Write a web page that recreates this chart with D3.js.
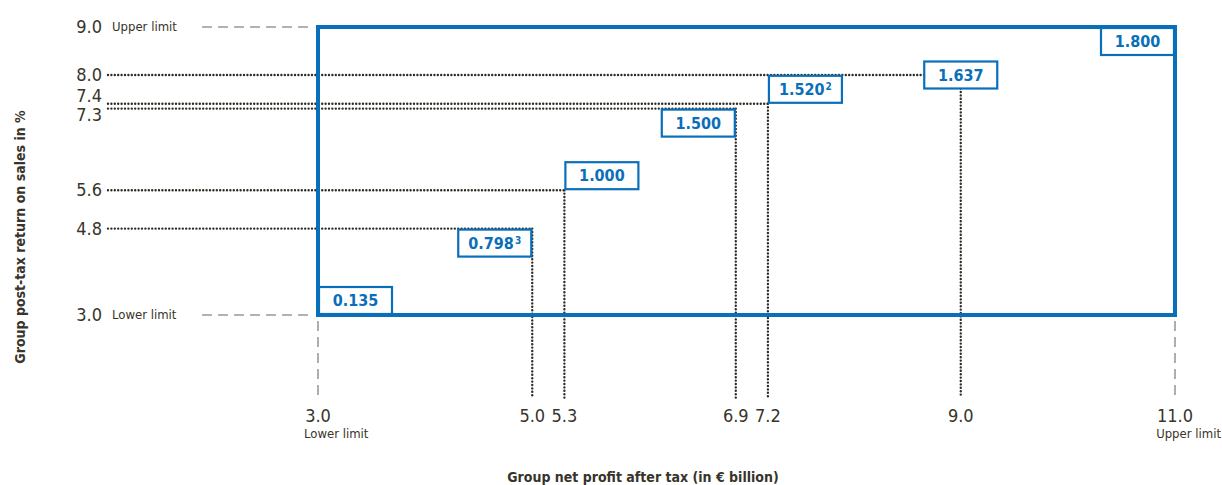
<!DOCTYPE html>
<html>
<head>
<meta charset="utf-8">
<script src="https://cdn.jsdelivr.net/npm/d3@7"></script>
<style>
  body { margin: 0; background: #fff; }
  text { font-family: "Liberation Sans Narrow", "DejaVu Sans Condensed", "Roboto", sans-serif; fill: #38342a; }
</style>
</head>
<body>
<div id="container"></div>
<script>
// datos del grafico
var profit = [3.0, 5.0, 5.3, 6.9, 7.2, 9.0, 11.0];
var returnOnSales = [3.0, 4.8, 5.6, 7.3, 7.4, 8.0, 9.0];
var boxLabels = ["0.135", "0.798", "1.000", "1.500", "1.520", "1.637", "1.800"];
var boxNotes = ["", "3", "", "", "2", "", ""];
var xTicks = ["3.0", "5.0", "5.3", "6.9", "7.2", "9.0", "11.0"];
var yTicks = ["3.0", "4.8", "5.6", "7.3", "7.4", "8.0", "9.0"];
var limits = { lowerX: 3.0, upperX: 11.0, lowerY: 3.0, upperY: 9.0 };

var W = 1222, H = 485;
var blue = "#0a6fba", ink = "#2f2b22", grey = "#9a9a9a";

var svg = d3.select("#container").append("svg")
    .attr("width", W).attr("height", H);

// escalas
var x = d3.scaleLinear().domain([limits.lowerX, limits.upperX]).range([318, 1175]);
var y = d3.scaleLinear().domain([limits.lowerY, limits.upperY]).range([315, 27]);

var axisBottomY = 398;
var boxW = 73, boxH = 27;

// lineas punteadas (solo para puntos interiores)
var idx = d3.range(profit.length).filter(function (i) { return i > 0 && i < profit.length - 1; });

svg.selectAll(".hdot").data(idx).enter().append("line")
    .attr("x1", 108).attr("x2", function (i) { return x(profit[i]); })
    .attr("y1", function (i) { return y(returnOnSales[i]); })
    .attr("y2", function (i) { return y(returnOnSales[i]); })
    .attr("stroke", ink).attr("stroke-width", 2.4)
    .attr("stroke-linecap", "round").attr("stroke-dasharray", "0 3.4");

svg.selectAll(".vdot").data(idx).enter().append("line")
    .attr("x1", function (i) { return x(profit[i]); })
    .attr("x2", function (i) { return x(profit[i]); })
    .attr("y1", function (i) { return y(returnOnSales[i]); })
    .attr("y2", axisBottomY)
    .attr("stroke", ink).attr("stroke-width", 2.4)
    .attr("stroke-linecap", "round").attr("stroke-dasharray", "0 3.4");

// limites (lineas grises discontinuas)
[limits.lowerY, limits.upperY].forEach(function (v) {
    svg.append("line")
        .attr("x1", 202).attr("x2", 311)
        .attr("y1", y(v)).attr("y2", y(v))
        .attr("stroke", grey).attr("stroke-width", 1.6)
        .attr("stroke-dasharray", "10 6");
});
[limits.lowerX, limits.upperX].forEach(function (v) {
    svg.append("line")
        .attr("x1", x(v)).attr("x2", x(v))
        .attr("y1", y(limits.lowerY) + 6).attr("y2", axisBottomY)
        .attr("stroke", grey).attr("stroke-width", 1.6)
        .attr("stroke-dasharray", "10 6");
});

// rectangulo principal
svg.append("rect")
    .attr("x", x(limits.lowerX)).attr("y", y(limits.upperY))
    .attr("width", x(limits.upperX) - x(limits.lowerX))
    .attr("height", y(limits.lowerY) - y(limits.upperY))
    .attr("fill", "none").attr("stroke", blue).attr("stroke-width", 4);

// cajas con valores
// bl = esquina inferior izquierda en el punto, tr = superior derecha, c = centrada
var anchor = ["bl", "tr", "bl", "tr", "bl", "c", "tr"];
function boxPos(i) {
    var px = x(profit[i]), py = y(returnOnSales[i]);
    if (anchor[i] === "bl") return [px + 1, py - boxH - 1];
    if (anchor[i] === "tr") return [px - boxW - 1, py + 1];
    return [px - boxW / 2, py - boxH / 2];
}

var boxes = svg.selectAll(".box").data(d3.range(profit.length)).enter().append("g")
    .attr("transform", function (i) { return "translate(" + boxPos(i) + ")"; });

boxes.append("rect")
    .attr("width", boxW).attr("height", boxH)
    .attr("fill", "#fff").attr("stroke", blue).attr("stroke-width", 2.2);

var lbl = boxes.append("text")
    .attr("x", boxW / 2).attr("y", boxH / 2 + 5.5)
    .attr("text-anchor", "middle")
    .style("font-weight", "bold").style("font-size", "16px")
    .style("fill", blue);
lbl.append("tspan").text(function (i) { return boxLabels[i]; });
lbl.append("tspan")
    .attr("dy", -5).attr("dx", 1)
    .style("font-size", "10px")
    .text(function (i) { return boxNotes[i]; });

// etiquetas eje y
var yOffset = { "7.4": -8, "7.3": 6 };
svg.selectAll(".ytick").data(yTicks).enter().append("text")
    .attr("x", 102)
    .attr("y", function (d) { return y(+d) + 6 + (yOffset[d] || 0); })
    .attr("text-anchor", "end")
    .style("font-size", "18px")
    .text(function (d) { return d; });

svg.append("text").attr("x", 112).attr("y", y(limits.upperY) + 4)
    .style("font-size", "13px").text("Upper limit");
svg.append("text").attr("x", 112).attr("y", y(limits.lowerY) + 4)
    .style("font-size", "13px").text("Lower limit");

// etiquetas eje x
svg.selectAll(".xtick").data(xTicks).enter().append("text")
    .attr("x", function (d) { return x(+d); })
    .attr("y", 422)
    .attr("text-anchor", "middle")
    .style("font-size", "18px")
    .text(function (d) { return d; });

svg.append("text").attr("x", 304).attr("y", 438)
    .style("font-size", "13px").text("Lower limit");
svg.append("text").attr("x", 1221).attr("y", 438)
    .attr("text-anchor", "end")
    .style("font-size", "13px").text("Upper limit");

// titulos de ejes
svg.append("text")
    .attr("x", 643).attr("y", 482)
    .attr("text-anchor", "middle")
    .style("font-size", "14px").style("font-weight", "bold")
    .text("Group net profit after tax (in € billion)");

svg.append("text")
    .attr("transform", "translate(25,237) rotate(-90)")
    .attr("text-anchor", "middle")
    .style("font-size", "14px").style("font-weight", "bold")
    .text("Group post-tax return on sales in %");
</script>
</body>
</html>
